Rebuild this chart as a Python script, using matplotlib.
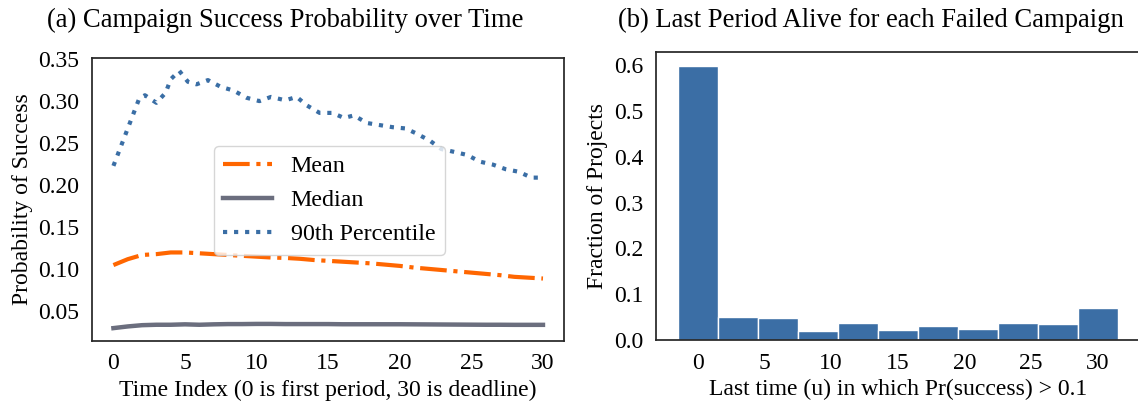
import numpy as np
import matplotlib
matplotlib.use('Agg')
import matplotlib.pyplot as plt

plt.rcParams['font.family'] = ['Liberation Serif', 'DejaVu Serif']
plt.rcParams['axes.edgecolor'] = '#262626'
plt.rcParams['axes.linewidth'] = 1.25

# Success probability over time (mean / median on the 0..30 grid)
t = np.arange(31)
mean_p = [0.105, 0.112, 0.117, 0.118, 0.120, 0.120, 0.119, 0.118, 0.117, 0.116,
          0.115, 0.114, 0.1135, 0.1125, 0.111, 0.110, 0.109, 0.108, 0.107, 0.1055,
          0.104, 0.102, 0.1005, 0.099, 0.0975, 0.096, 0.0945, 0.093, 0.091, 0.090,
          0.089]
median_p = [0.030, 0.032, 0.0335, 0.034, 0.034, 0.0345, 0.034, 0.0345, 0.0348, 0.0348,
            0.035, 0.035, 0.0348, 0.0348, 0.0348, 0.0348, 0.0346, 0.0346, 0.0346, 0.0346,
            0.0346, 0.0345, 0.0344, 0.0343, 0.0342, 0.0341, 0.034, 0.034, 0.0339, 0.0339,
            0.0339]

# 90th percentile curve
p90_t = [0, 1.8, 2.2, 3.0, 3.65, 4.0, 4.6, 5.2, 5.8, 6.6, 7.5, 8.4, 9.3, 10.2, 11.0,
         12.0, 12.8, 13.5, 14.4, 15.3, 16.1, 16.8, 17.7, 18.6, 19.5, 20.4, 21.1,
         22.1, 22.9, 23.7, 24.7, 25.6, 26.5, 27.4, 28.3, 29.2, 30.0]
p90_p = [0.223, 0.303, 0.307, 0.298, 0.310, 0.326, 0.336, 0.323, 0.320, 0.325, 0.317,
         0.3125, 0.304, 0.300, 0.305, 0.301, 0.305, 0.295, 0.286, 0.286, 0.280, 0.283,
         0.274, 0.2715, 0.269, 0.2675, 0.262, 0.253, 0.243, 0.240, 0.236, 0.228,
         0.2245, 0.219, 0.216, 0.209, 0.209]

# Last period alive histogram
last_u = [0, 3, 6, 9, 12, 15, 18, 21, 24, 27, 30]
frac = [0.598, 0.050, 0.049, 0.020, 0.037, 0.0225, 0.031, 0.024, 0.037, 0.0356, 0.070]

fig = plt.figure(figsize=(11.38, 4.07), dpi=100)
ax1 = fig.add_axes([0.0808, 0.1622, 0.4152, 0.6953])
ax2 = fig.add_axes([0.5762, 0.1639, 0.4253, 0.7083])

ax1.plot(t, mean_p, color='#ff6600', lw=3, ls='-.', label='Mean')
ax1.plot(t, median_p, color='#6b6e7e', lw=3.2, ls='-', label='Median')
ax1.plot(p90_t, p90_p, color='#3a6ea5', lw=3, ls=':', label='90th Percentile')
ax1.set_xticks([0, 5, 10, 15, 20, 25, 30])
ax1.set_yticks([0.05, 0.10, 0.15, 0.20, 0.25, 0.30, 0.35])
ax1.set_xlabel('Time Index (0 is first period, 30 is deadline)', fontsize=17)
ax1.set_ylabel('Probability of Success', fontsize=17)
ax1.tick_params(length=0, labelsize=17, pad=9)
leg = ax1.legend(loc='upper left', bbox_to_anchor=(0.258, 0.689), borderaxespad=0,
                 fontsize=17.3, frameon=True)
leg.get_frame().set_edgecolor('#cccccc')

ax2.bar(last_u, frac, width=3, color='#3b6ea5', edgecolor='white', linewidth=1)
ax2.set_xticks([0, 5, 10, 15, 20, 25, 30])
ax2.set_yticks([0.0, 0.1, 0.2, 0.3, 0.4, 0.5, 0.6])
ax2.set_xlabel('Last time (u) in which Pr(success) > 0.1', fontsize=17)
ax2.set_ylabel('Fraction of Projects', fontsize=17)
ax2.tick_params(length=0, labelsize=17, pad=9)

fig.text(0.251, 0.95, '(a) Campaign Success Probability over Time', fontsize=19.2,
         ha='center', va='center')
fig.text(0.765, 0.95, '(b) Last Period Alive for each Failed Campaign', fontsize=19.2,
         ha='center', va='center')

fig.savefig('out.png', dpi=100)
